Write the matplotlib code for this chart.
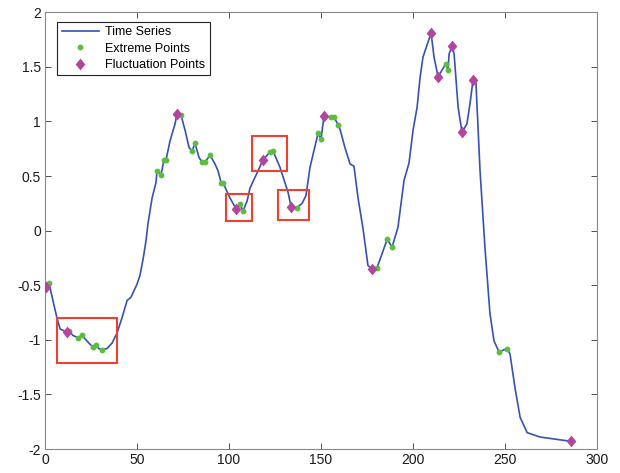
import numpy as np
import matplotlib
matplotlib.use("Agg")
import matplotlib.pyplot as plt
from matplotlib.patches import Rectangle

plt.rcParams['font.family'] = ['Liberation Sans', 'DejaVu Sans']

# time series
ts_x = [0.5, 2.2, 4.3, 6.5, 8.2, 12.0, 13.0, 15.2, 17.9, 20.1, 22.8, 26.1, 27.7, 29.3,
        31.0, 33.7, 36.4, 39.1, 41.8, 44.6, 46.7, 50.0, 51.6, 53.3, 54.9, 56.0, 58.2,
        60.3, 60.9, 63.0, 64.7, 65.8, 67.9, 70.7, 71.7, 73.9, 76.1, 78.3, 79.9, 81.5,
        83.7, 85.3, 87.0, 89.7, 92.4, 94.0, 95.7, 96.7, 100.5, 103.8, 106.0, 107.6,
        109.8, 111.4, 115.8, 118.5, 122.3, 123.9, 127.7, 132.1, 133.7, 137.0, 139.7,
        141.8, 144.0, 147.8, 148.4, 150.0, 151.6, 155.4, 157.1, 159.2, 160.3, 163.0,
        165.8, 167.9, 170.1, 172.8, 175.5, 177.7, 180.4, 183.2, 185.9, 188.6, 191.8,
        195.1, 197.8, 200.0, 202.2, 203.8, 205.4, 209.8, 211.4, 213.6, 217.9, 219.0,
        219.6, 221.2, 222.3, 224.5, 226.6, 229.3, 231.0, 232.6, 234.2, 236.4, 239.1,
        241.8, 244.0, 246.7, 251.1, 252.7, 255.4, 258.2, 262.0, 269.0, 285.9]
ts_y = [-0.52, -0.48, -0.64, -0.80, -0.90, -0.93, -0.92, -0.96, -0.98, -0.96, -1.01,
        -1.07, -1.05, -1.08, -1.09, -1.08, -1.03, -0.94, -0.80, -0.64, -0.61, -0.49,
        -0.41, -0.26, -0.09, 0.07, 0.30, 0.44, 0.55, 0.51, 0.65, 0.65, 0.82, 0.98, 1.07,
        1.06, 0.92, 0.76, 0.73, 0.80, 0.67, 0.63, 0.63, 0.69, 0.61, 0.55, 0.44, 0.44,
        0.30, 0.20, 0.24, 0.18, 0.27, 0.39, 0.55, 0.65, 0.72, 0.73, 0.58, 0.35, 0.22,
        0.21, 0.25, 0.32, 0.58, 0.85, 0.89, 0.84, 1.05, 1.04, 1.04, 0.97, 0.93, 0.76,
        0.61, 0.59, 0.30, 0.02, -0.32, -0.35, -0.34, -0.21, -0.08, -0.15, 0.03, 0.46,
        0.62, 0.92, 1.13, 1.40, 1.59, 1.81, 1.59, 1.41, 1.53, 1.47, 1.62, 1.69, 1.62,
        1.13, 0.90, 0.98, 1.17, 1.38, 1.35, 0.55, -0.16, -0.76, -1.01, -1.11, -1.08,
        -1.13, -1.44, -1.71, -1.85, -1.89, -1.93]

# extreme points (green)
ext_x = [2.2, 13.0, 17.9, 20.1, 26.1, 27.7, 31.0, 60.9, 63.0, 64.7, 65.8, 73.9, 79.9,
         81.5, 85.3, 87.0, 89.7, 95.7, 96.7, 106.0, 107.6, 122.3, 123.9, 137.0, 148.4,
         150.0, 155.4, 157.1, 159.2, 180.4, 185.9, 188.6, 217.9, 219.0, 246.7, 251.1]
ext_y = [-0.48, -0.92, -0.98, -0.96, -1.07, -1.05, -1.09, 0.55, 0.51, 0.65, 0.65, 1.06,
         0.73, 0.80, 0.63, 0.63, 0.69, 0.44, 0.44, 0.24, 0.18, 0.72, 0.73, 0.21, 0.89,
         0.84, 1.04, 1.04, 0.97, -0.34, -0.08, -0.15, 1.53, 1.47, -1.11, -1.08]

# fluctuation points (magenta)
fluc_x = [0.5, 12.0, 71.7, 103.8, 118.5, 133.7, 151.6, 177.7, 209.8, 213.6, 221.2,
          226.6, 232.6, 285.9]
fluc_y = [-0.52, -0.93, 1.07, 0.20, 0.65, 0.22, 1.05, -0.35, 1.81, 1.41, 1.69, 0.90,
          1.38, -1.93]

# highlighted regions: x0, x1, y0, y1
boxes = [(6.5, 39.1, -1.21, -0.80),
         (98.4, 112.5, 0.09, 0.34),
         (112.5, 131.5, 0.55, 0.87),
         (126.6, 143.5, 0.10, 0.37)]

# matlab-like diamond, a bit taller than wide
diamond = [(0, 1), (0.82, 0), (0, -1), (-0.82, 0), (0, 1)]

fig = plt.figure(figsize=(6.2, 4.73), dpi=100)
ax = fig.add_axes([0.0726, 0.0507, 0.8904, 0.9233])

ax.plot(ts_x, ts_y, color='#3552b5', lw=1.2, label='Time Series', zorder=2)
ax.plot(ext_x, ext_y, 'o', color='#5cbf3c', ms=4.2, mec='none', label='Extreme Points', zorder=3)
ax.plot(fluc_x, fluc_y, marker=diamond, ls='none', color='#b4459e', ms=8.5, mec='none',
        label='Fluctuation Points', zorder=4)

for x0, x1, y0, y1 in boxes:
    ax.add_patch(Rectangle((x0, y0), x1 - x0, y1 - y0, fill=False,
                           edgecolor='#ef4030', lw=1.5, zorder=5))

ax.set_xlim(0, 300)
ax.set_ylim(-2, 2)
ax.set_xticks(np.arange(0, 301, 50))
ax.set_yticks(np.arange(-2, 2.01, 0.5))
ax.set_yticklabels(['-2', '-1.5', '-1', '-0.5', '0', '0.5', '1', '1.5', '2'])
ax.tick_params(direction='in', length=4, width=0.6, top=True, right=True,
               labelsize=10, colors='#333333', labelcolor='#1a1a1a', pad=3)
for s in ax.spines.values():
    s.set_color('#888888')
    s.set_linewidth(0.8)

leg = ax.legend(loc='upper left', bbox_to_anchor=(0.022, 0.978), borderaxespad=0,
                fontsize=9, fancybox=False, framealpha=1, edgecolor='#222222',
                handlelength=3.0, handletextpad=0.5, labelspacing=0.35,
                borderpad=0.35)
leg.get_frame().set_linewidth(0.8)

fig.savefig('out.png', dpi=100)
